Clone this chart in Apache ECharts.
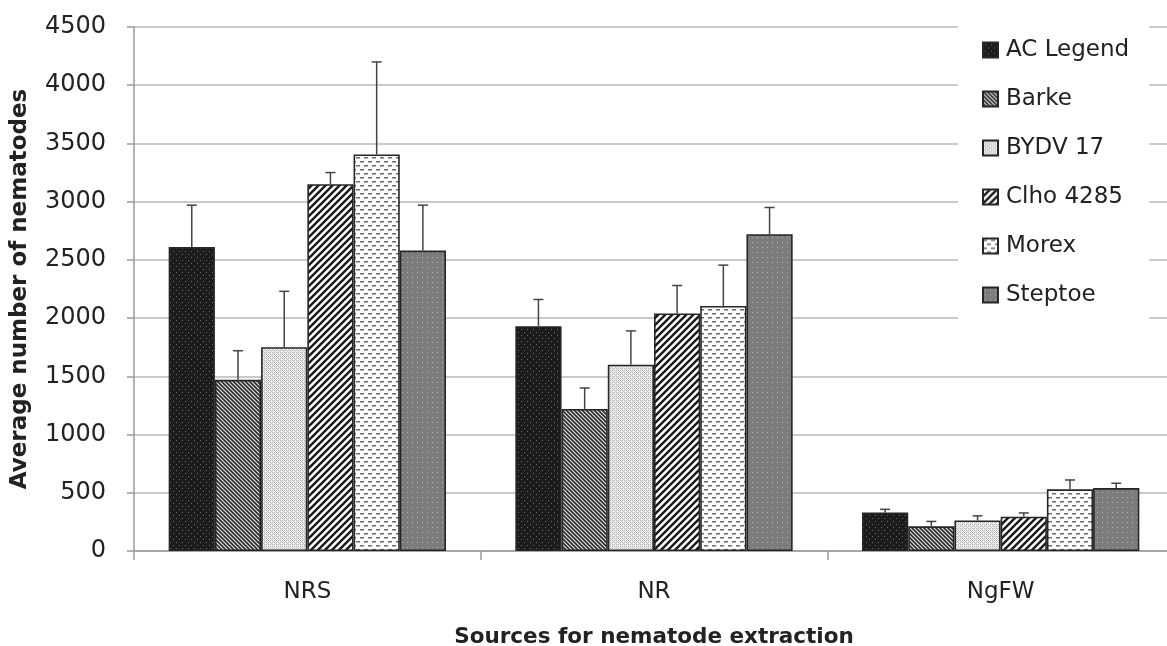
<!DOCTYPE html>
<html>
<head>
<meta charset="utf-8">
<script src="https://cdn.jsdelivr.net/npm/echarts@6/dist/echarts.min.js"></script>
<style>html,body{margin:0;padding:0;background:#fff;}#c{width:1167px;height:646px;}</style>
</head>
<body>
<div id="c"></div>
<script>
const categories = ['NRS', 'NR', 'NgFW'];
const seriesNames = ['AC Legend', 'Barke', 'BYDV 17', 'Clho 4285', 'Morex', 'Steptoe'];
const acLegend = [2610, 1930, 330];
const barke = [1470, 1220, 212];
const bydv17 = [1750, 1600, 262];
const clho4285 = [3150, 2040, 295];
const morex = [3405, 2105, 530];
const steptoe = [2580, 2720, 540];
const acLegendErr = [360, 230, 28];
const barkeErr = [250, 180, 42];
const bydv17Err = [480, 290, 40];
const clho4285Err = [100, 240, 32];
const morexErr = [795, 350, 80];
const steptoeErr = [390, 230, 42];
const yTicks = [0, 500, 1000, 1500, 2000, 2500, 3000, 3500, 4000, 4500];

const values = [acLegend, barke, bydv17, clho4285, morex, steptoe];
const errors = [acLegendErr, barkeErr, bydv17Err, clho4285Err, morexErr, steptoeErr];

function pat(w, h, draw) {
  const c = document.createElement('canvas');
  c.width = w; c.height = h;
  const g = c.getContext('2d');
  draw(g, w, h);
  return { image: c, repeat: 'repeat' };
}
const patterns = [
  pat(6, 6, (g, w, h) => { g.fillStyle = '#1c1c1c'; g.fillRect(0, 0, w, h); g.fillStyle = '#6e6e6e'; g.fillRect(2, 2, 1, 1); g.fillRect(5, 5, 1, 1); }),
  pat(4, 4, (g, s) => { g.fillStyle = '#e6e6e6'; g.fillRect(0, 0, s, s); g.strokeStyle = '#2a2a2a'; g.lineWidth = 1.6;
    g.beginPath(); g.moveTo(-1, -1); g.lineTo(s + 1, s + 1); g.moveTo(-1, s - 1); g.lineTo(1, s + 1); g.moveTo(s - 1, -1); g.lineTo(s + 1, 1); g.stroke(); }),
  pat(4, 4, (g, s) => { g.fillStyle = '#f0f0f0'; g.fillRect(0, 0, s, s); g.fillStyle = '#b0b0b0'; g.fillRect(0, 0, 1, 1); g.fillRect(2, 2, 1, 1); g.fillRect(2, 0, 1, 1); g.fillRect(0, 2, 1, 1); g.fillStyle = '#c8c8c8'; g.fillRect(1, 1, 1, 1); g.fillRect(3, 3, 1, 1); }),
  pat(7, 7, (g, s) => { g.fillStyle = '#ffffff'; g.fillRect(0, 0, s, s); g.strokeStyle = '#1a1a1a'; g.lineWidth = 2.4;
    g.beginPath(); g.moveTo(-1, s + 1); g.lineTo(s + 1, -1); g.moveTo(-1, 1); g.lineTo(1, -1); g.moveTo(s - 1, s + 1); g.lineTo(s + 1, s - 1); g.stroke(); }),
  pat(8, 8, (g, w, h) => { g.fillStyle = '#ffffff'; g.fillRect(0, 0, w, h); g.fillStyle = '#6a6a6a'; g.fillRect(0, 1, 4, 1.5); g.fillRect(4, 5, 4, 1.5); }),
  pat(5, 5, (g, w, h) => { g.fillStyle = '#7c7c7c'; g.fillRect(0, 0, w, h); g.fillStyle = '#b4b4b4'; g.fillRect(2, 2, 1, 1); })
];

const FONT = 'DejaVu Sans';
const n = seriesNames.length;
const series = [];
seriesNames.forEach((name, i) => {
  series.push({
    name: name, type: 'bar', data: values[i], barGap: 0, barCategoryGap: '20%',
    itemStyle: { color: patterns[i], borderColor: '#262626', borderWidth: 1.6 },
    z: 2
  });
});
seriesNames.forEach((name, i) => {
  series.push({
    type: 'custom', name: name + ' err', silent: true, z: 3,
    data: values[i].map((v, k) => [k, v, v + errors[i][k]]),
    encode: { x: 0, y: [1, 2] },
    renderItem: function (params, api) {
      const k = api.value(0);
      const base = api.coord([k, api.value(1)]);
      const top = api.coord([k, api.value(2)]);
      const band = api.size([1, 0])[0];
      const bw = band * 0.8 / n;
      const x = base[0] - band * 0.4 + (i + 0.5) * bw;
      const st = { stroke: '#444', lineWidth: 1.5 };
      return { type: 'group', children: [
        { type: 'line', shape: { x1: x, y1: base[1], x2: x, y2: top[1] }, style: st },
        { type: 'line', shape: { x1: x - 5, y1: top[1], x2: x + 5, y2: top[1] }, style: st }
      ] };
    }
  });
});

const chart = echarts.init(document.getElementById('c'), null, { renderer: 'canvas' });
chart.setOption({
  animation: false,
  backgroundColor: '#ffffff',
  grid: { left: 134, top: 27, width: 1040, height: 524, containLabel: false, outerBoundsMode: 'none' },
  legend: {
    data: seriesNames, orient: 'vertical', left: 958, top: 22,
    backgroundColor: '#ffffff', padding: [16, 20, 16, 24],
    itemWidth: 15, itemHeight: 15, itemGap: 25, icon: 'rect',
    textStyle: { fontFamily: FONT, fontSize: 23, color: '#222', lineHeight: 24, padding: [0, 0, 0, 3] }
  },
  xAxis: {
    type: 'category', data: categories,
    axisLine: { lineStyle: { color: '#9a9a9a', width: 1.5 } },
    axisTick: { show: true, length: 9, lineStyle: { color: '#9a9a9a', width: 1.5 } },
    axisLabel: { fontFamily: FONT, fontSize: 23, color: '#222', margin: 30 },
    name: 'Sources for nematode extraction', nameLocation: 'middle', nameGap: 75,
    nameTextStyle: { fontFamily: FONT, fontSize: 21.5, fontWeight: 'bold', color: '#222' }
  },
  yAxis: {
    type: 'value', min: 0, max: 4500, interval: 500,
    axisLine: { show: true, lineStyle: { color: '#9a9a9a', width: 1.5 } },
    axisTick: { show: true, length: 7, lineStyle: { color: '#9a9a9a', width: 1.5 } },
    splitLine: { lineStyle: { color: '#b8b8b8', width: 1.6 } },
    axisLabel: { fontFamily: FONT, fontSize: 24, color: '#222', margin: 28,
      formatter: v => yTicks.includes(v) ? String(v) : '' },
    name: 'Average number of nematodes', nameLocation: 'middle', nameGap: 102, nameRotate: 90,
    nameTextStyle: { fontFamily: FONT, fontSize: 23, fontWeight: 'bold', color: '#222' }
  },
  series: series
});
</script>
</body>
</html>
